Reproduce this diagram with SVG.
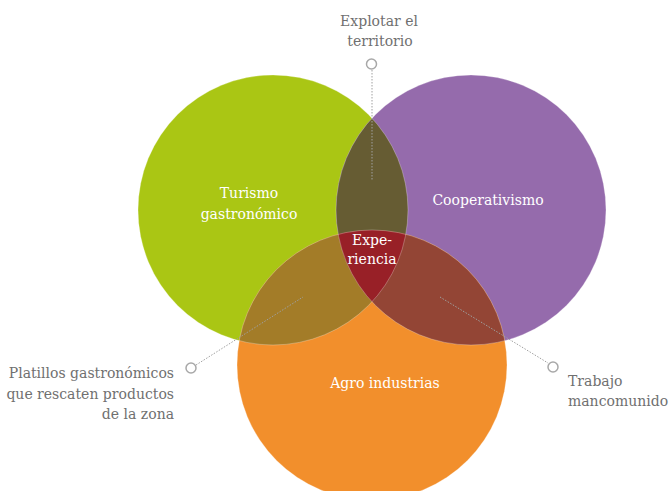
<svg xmlns="http://www.w3.org/2000/svg" width="671" height="491" viewBox="0 0 671 491">
<style>
.t{font-family:"DejaVu Serif","Liberation Serif",serif;font-size:14px;fill:#fff;text-anchor:middle}
.g{font-family:"DejaVu Serif","Liberation Serif",serif;font-size:14px;fill:#707070}
.lead{stroke:#a0a0a0;stroke-width:1;stroke-dasharray:1.5 1.5;fill:none}
.mk{fill:#fff;stroke:#a8a8a8;stroke-width:1.5}
.edge{fill:none;stroke:#ffffff;stroke-opacity:0.35;stroke-width:0.8}
</style>
<defs>
<clipPath id="cG"><circle cx="273" cy="210" r="135"/></clipPath>
<clipPath id="cP"><circle cx="471" cy="210" r="135"/></clipPath>
<clipPath id="cO"><circle cx="372" cy="365" r="135"/></clipPath>
</defs>
<g id="circle-turismo">
<circle cx="273" cy="210" r="135" fill="#AAC614"/>
</g>
<g id="circle-cooperativismo">
<circle cx="471" cy="210" r="135" fill="#956BAC"/>
</g>
<g id="circle-agro">
<circle cx="372" cy="365" r="135" fill="#F28F2C"/>
</g>
<g id="overlaps">
<g clip-path="url(#cG)"><circle cx="471" cy="210" r="135" fill="#665C33"/></g>
<g clip-path="url(#cG)"><circle cx="372" cy="365" r="135" fill="#A37C28"/></g>
<g clip-path="url(#cP)"><circle cx="372" cy="365" r="135" fill="#934535"/></g>
<g clip-path="url(#cP)"><g clip-path="url(#cG)"><circle cx="372" cy="365" r="135" fill="#982027"/></g></g>
<circle class="edge" cx="273" cy="210" r="135"/>
<circle class="edge" cx="471" cy="210" r="135"/>
<circle class="edge" cx="372" cy="365" r="135"/>
</g>
<g id="connectors">
<line class="lead" x1="372" y1="70" x2="372" y2="181"/>
<line class="lead" x1="196" y1="365" x2="303" y2="297"/>
<line class="lead" x1="440" y1="297" x2="548" y2="363"/>
</g>
<g id="label-top">
<circle class="mk" cx="371.5" cy="64" r="5"/>
<text class="g" x="379" y="26" text-anchor="middle">Explotar el</text>
<text class="g" x="380" y="46" text-anchor="middle">territorio</text>
</g>
<g id="label-left">
<circle class="mk" cx="191" cy="368" r="5"/>
<text class="g" x="174" y="378" text-anchor="end">Platillos gastronómicos</text>
<text class="g" x="174" y="399" text-anchor="end">que rescaten productos</text>
<text class="g" x="174" y="419" text-anchor="end">de la zona</text>
</g>
<g id="label-right">
<circle class="mk" cx="553" cy="367" r="5"/>
<text class="g" x="568" y="386">Trabajo</text>
<text class="g" x="568" y="406">mancomunido</text>
</g>
<g id="node-turismo">
<text class="t" x="249" y="198">Turismo</text>
<text class="t" x="249" y="219">gastronómico</text>
</g>
<g id="node-cooperativismo">
<text class="t" x="488" y="205">Cooperativismo</text>
</g>
<g id="node-agro">
<text class="t" x="385" y="388">Agro industrias</text>
</g>
<g id="node-experiencia">
<text class="t" x="372" y="245">Expe-</text>
<text class="t" x="372" y="264">riencia</text>
</g>
</svg>
